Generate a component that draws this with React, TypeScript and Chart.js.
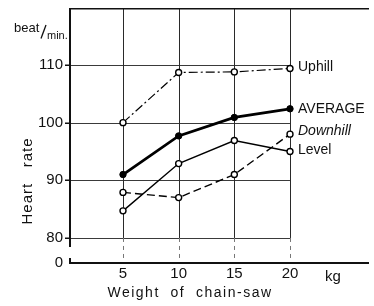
import React, { useEffect, useRef } from "react";
import { Chart, registerables } from "chart.js";

Chart.register(...registerables);

// ---- data ----
const weights = [5, 10, 15, 20];
const uphill = [100.0, 108.7, 108.8, 109.4];
const average = [91.0, 97.7, 100.9, 102.4];
const downhill = [87.9, 87.0, 91.0, 98.0];
const level = [84.7, 92.9, 96.9, 95.0];
const yTicks = [80, 90, 100, 110];
const seriesNames = ["Uphill", "AVERAGE", "Downhill", "Level"];
const xTitle = "Weight  of  chain-saw";
const yTitle = "Heart   rate";
const unitX = "kg";

const X_MIN = 0.24;
const X_MAX = 27.06;
const Y_MIN = 75.66;
const Y_MAX = 119.88;

const FONT = "'Liberation Sans', Arial, sans-serif";
const INK = "#111";

const decor = {
  id: "decor",
  beforeDatasetsDraw(chart: any) {
    const { ctx, chartArea: a, scales } = chart;
    const x = scales.x;
    const y = scales.y;
    ctx.save();
    const x20 = x.getPixelForValue(20);
    const y80 = y.getPixelForValue(80);
    const L = Math.round(a.left);
    const B = Math.round(a.bottom);
    const T = Math.round(a.top);
    const R = Math.round(a.right);
    // horizontal grid lines
    ctx.strokeStyle = "#3a3a3a";
    ctx.lineWidth = 1;
    for (const v of yTicks) {
      const py = Math.round(y.getPixelForValue(v)) + 0.5;
      ctx.beginPath();
      ctx.moveTo(L, py);
      ctx.lineTo(x20, py);
      ctx.stroke();
    }
    // vertical grid lines
    for (const w of weights) {
      const px = Math.round(x.getPixelForValue(w)) + 0.5;
      ctx.strokeStyle = "#2a2a2a";
      ctx.setLineDash([]);
      ctx.beginPath();
      ctx.moveTo(px, T);
      ctx.lineTo(px, y80);
      ctx.stroke();
      ctx.strokeStyle = "#777";
      ctx.setLineDash([4, 4]);
      ctx.beginPath();
      ctx.moveTo(px, y80);
      ctx.lineTo(px, B);
      ctx.stroke();
    }
    ctx.setLineDash([]);
    ctx.fillStyle = "#111";
    // top border
    ctx.fillRect(L, T, R - L, 1.5);
    // left axis with break
    const yBreak = Math.round(y.getPixelForValue(78.4));
    ctx.fillRect(L - 1, T, 2, yBreak - T);
    ctx.fillRect(L - 1, B - 5, 2, 5);
    // bottom axis
    ctx.fillRect(L - 1, B - 1, R - L + 1, 2);
    // y tick marks
    for (const v of yTicks) {
      const py = Math.round(y.getPixelForValue(v));
      ctx.fillRect(L - 5, py - 0.5, 5, 1.5);
    }
    ctx.restore();
  },
  afterDraw(chart: any) {
    const { ctx, chartArea: a, scales } = chart;
    const x = scales.x;
    const y = scales.y;
    ctx.save();
    ctx.fillStyle = INK;
    ctx.textBaseline = "middle";
    // series labels
    const lastVals = [uphill[3], average[3], downhill[3], level[3]];
    const dy = [-1, 0, -3, -1];
    const lx = x.getPixelForValue(20) + 8;
    seriesNames.forEach((name, i) => {
      ctx.font = (i === 2 ? "italic " : "") + "14px " + FONT;
      ctx.textAlign = "left";
      ctx.fillText(name, lx, y.getPixelForValue(lastVals[i]) + dy[i]);
    });
    // unit kg
    ctx.font = "15px " + FONT;
    ctx.textAlign = "left";
    ctx.fillText(unitX, 325, a.bottom + 14);
    // x title
    ctx.font = "14px " + FONT;
    (ctx as any).letterSpacing = "1.5px";
    ctx.textAlign = "center";
    ctx.textBaseline = "alphabetic";
    ctx.fillText(xTitle, 190, 297);
    // y title
    ctx.translate(28, 181);
    ctx.rotate(-Math.PI / 2);
    ctx.font = "15px " + FONT;
    (ctx as any).letterSpacing = "1px";
    ctx.textBaseline = "middle";
    ctx.fillText(yTitle, 0, 0);
    ctx.setTransform(1, 0, 0, 1, 0, 0);
    (ctx as any).letterSpacing = "0px";
    // beat/min.
    ctx.textAlign = "left";
    ctx.textBaseline = "alphabetic";
    ctx.font = "13px " + FONT;
    ctx.fillText("beat", 14, 32);
    ctx.strokeStyle = INK;
    ctx.lineWidth = 1.3;
    ctx.beginPath();
    ctx.moveTo(41, 38.5);
    ctx.lineTo(46, 25);
    ctx.stroke();
    ctx.font = "11px " + FONT;
    ctx.fillText("min.", 47, 39);
    ctx.restore();
  },
};

export default function App() {
  const ref = useRef<HTMLCanvasElement | null>(null);
  useEffect(() => {
    if (!ref.current) return;
    const openPoint = {
      pointRadius: 3,
      pointBorderWidth: 1.4,
      pointBackgroundColor: "#fff",
      pointBorderColor: "#000",
    };
    const chart = new Chart(ref.current, {
      type: "line",
      data: {
        labels: weights,
        datasets: [
          {
            label: seriesNames[0],
            data: weights.map((w, i) => ({ x: w, y: uphill[i] })),
            borderColor: "#000",
            borderWidth: 1.2,
            borderDash: [9, 3, 2, 3],
            ...openPoint,
          },
          {
            label: seriesNames[1],
            data: weights.map((w, i) => ({ x: w, y: average[i] })),
            borderColor: "#000",
            borderWidth: 2.8,
            pointRadius: 3.2,
            pointBackgroundColor: "#000",
            pointBorderColor: "#000",
            pointBorderWidth: 1,
          },
          {
            label: seriesNames[2],
            data: weights.map((w, i) => ({ x: w, y: downhill[i] })),
            borderColor: "#000",
            borderWidth: 1.4,
            borderDash: [8, 4],
            ...openPoint,
          },
          {
            label: seriesNames[3],
            data: weights.map((w, i) => ({ x: w, y: level[i] })),
            borderColor: "#000",
            borderWidth: 1.4,
            ...openPoint,
          },
        ],
      },
      options: {
        responsive: false,
        animation: false,
        layout: { padding: { top: 8, left: 0, right: 0, bottom: 0 } },
        plugins: {
          legend: { display: false },
          tooltip: { enabled: false },
          title: { display: false },
        },
        scales: {
          x: {
            type: "linear",
            min: X_MIN,
            max: X_MAX,
            afterFit(s: any) {
              s.height = 43;
              s.paddingLeft = 0;
              s.paddingRight = 0;
            },
            afterBuildTicks(s: any) {
              s.ticks = weights.map((v) => ({ value: v }));
            },
            grid: { display: false, drawTicks: false },
            border: { display: false },
            ticks: {
              font: { family: FONT, size: 15 },
              color: INK,
              padding: 2,
              maxRotation: 0,
              autoSkip: false,
            },
          },
          y: {
            min: Y_MIN,
            max: Y_MAX,
            afterFit(s: any) {
              s.width = 70;
              s.paddingTop = 0;
              s.paddingBottom = 0;
            },
            afterBuildTicks(s: any) {
              s.ticks = [Y_MIN, ...yTicks].map((v) => ({ value: v }));
            },
            grid: { display: false, drawTicks: false },
            border: { display: false },
            ticks: {
              font: { family: FONT, size: 15 },
              color: INK,
              padding: 7,
              autoSkip: false,
              callback: (v: any) => (v === Y_MIN ? "0" : String(v)),
            },
          },
        },
      },
      plugins: [decor],
    });
    return () => chart.destroy();
  }, []);
  return (
    <div style={{ position: "absolute", left: 0, top: 0, width: 374, height: 306, background: "#fff" }}>
      <canvas ref={ref} width={374} height={306} style={{ display: "block" }} />
    </div>
  );
}
